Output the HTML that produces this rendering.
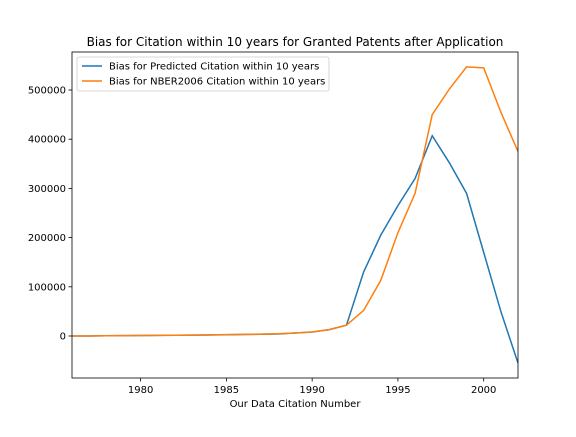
<!DOCTYPE html>
<html><head><meta charset="utf-8"><style>
body{margin:0;background:#fff;font-family:"Liberation Sans","DejaVu Sans",sans-serif}
svg text{font-family:"DejaVu Sans","Liberation Sans",sans-serif}
</style></head><body>
<svg id="chart" width="576" height="432" xmlns="http://www.w3.org/2000/svg"></svg>
<script>
const years=[1976,1977,1978,1979,1980,1981,1982,1983,1984,1985,1986,1987,1988,1989,1990,1991,1992,1993,1994,1995,1996,1997,1998,1999,2000,2001,2002];
const predicted=[0,0,500,800,1000,1200,1500,1800,2000,2500,3000,3500,4000,6000,8000,13000,22000,130000,205000,265000,320000,407000,352000,290000,170000,50000,-55000];
const nber=[0,0,500,800,1000,1200,1500,1800,2200,2800,3300,3800,4500,6000,8500,13000,22000,52000,113000,210000,290000,450000,502000,547000,545000,455000,375000];
const xTicks=[1980,1985,1990,1995,2000];
const yTicks=[0,100000,200000,300000,400000,500000];
const L=72,R=518,T=52,B=378;
const x=v=>L+(v-1976)/(2002-1976)*(R-L);
const y=v=>336-v/500000*246;
const svg=document.getElementById('chart');
const NS='http://www.w3.org/2000/svg';
function mk(tag,attrs,parent){const e=document.createElementNS(NS,tag);for(const k in attrs)e.setAttribute(k,attrs[k]);(parent||svg).appendChild(e);return e;}
const g=mk('g',{});


const ln=(data,color,name)=>{const p=mk('polyline',{points:years.map((yr,i)=>x(yr)+','+y(data[i])).join(' '),fill:'none',stroke:color,'stroke-width':1.5},g);

};
const clip=mk('clipPath',{id:'c'});mk('rect',{x:L,y:T,width:R-L,height:B-T},clip);
g.setAttribute('clip-path','url(#c)');
ln(predicted,'#1f77b4','predicted-line');
ln(nber,'#ff7f0e','nber-line');
const fr=mk('rect',{x:L,y:T,width:R-L,height:B-T,fill:'none',stroke:'#000','stroke-width':0.8});


xTicks.forEach(t=>{mk('line',{x1:x(t),x2:x(t),y1:B,y2:B+3.5,stroke:'#000','stroke-width':0.8});
const tx=mk('text',{x:x(t),y:B+15,'font-size':10,'text-anchor':'middle'});tx.textContent=t;

});
yTicks.forEach(t=>{mk('line',{x1:L-3.5,x2:L,y1:y(t),y2:y(t),stroke:'#000','stroke-width':0.8});
const tx=mk('text',{x:L-6,y:y(t)+3.5,'font-size':10,'text-anchor':'end'});tx.textContent=t;

});
const xt=mk('text',{x:(L+R)/2,y:407,'font-size':10,'text-anchor':'middle'});xt.textContent='Our Data Citation Number';


const tt=mk('text',{x:(L+R)/2,y:46,'font-size':12,'text-anchor':'middle'});tt.textContent='Bias for Citation within 10 years for Granted Patents after Application';


const lg=mk('g',{});


mk('rect',{x:77,y:57,width:252,height:34,rx:2,fill:'#fff',stroke:'#ccc','stroke-width':0.8},lg);
[['Bias for Predicted Citation within 10 years','#1f77b4'],['Bias for NBER2006 Citation within 10 years','#ff7f0e']].forEach((d,i)=>{
const yy=66+i*15;
mk('line',{x1:82,x2:102,y1:yy,y2:yy,stroke:d[1],'stroke-width':1.5},lg);
const t=mk('text',{x:109,y:yy+3.5,'font-size':10},lg);t.textContent=d[0];

});
</script>
</body></html>
